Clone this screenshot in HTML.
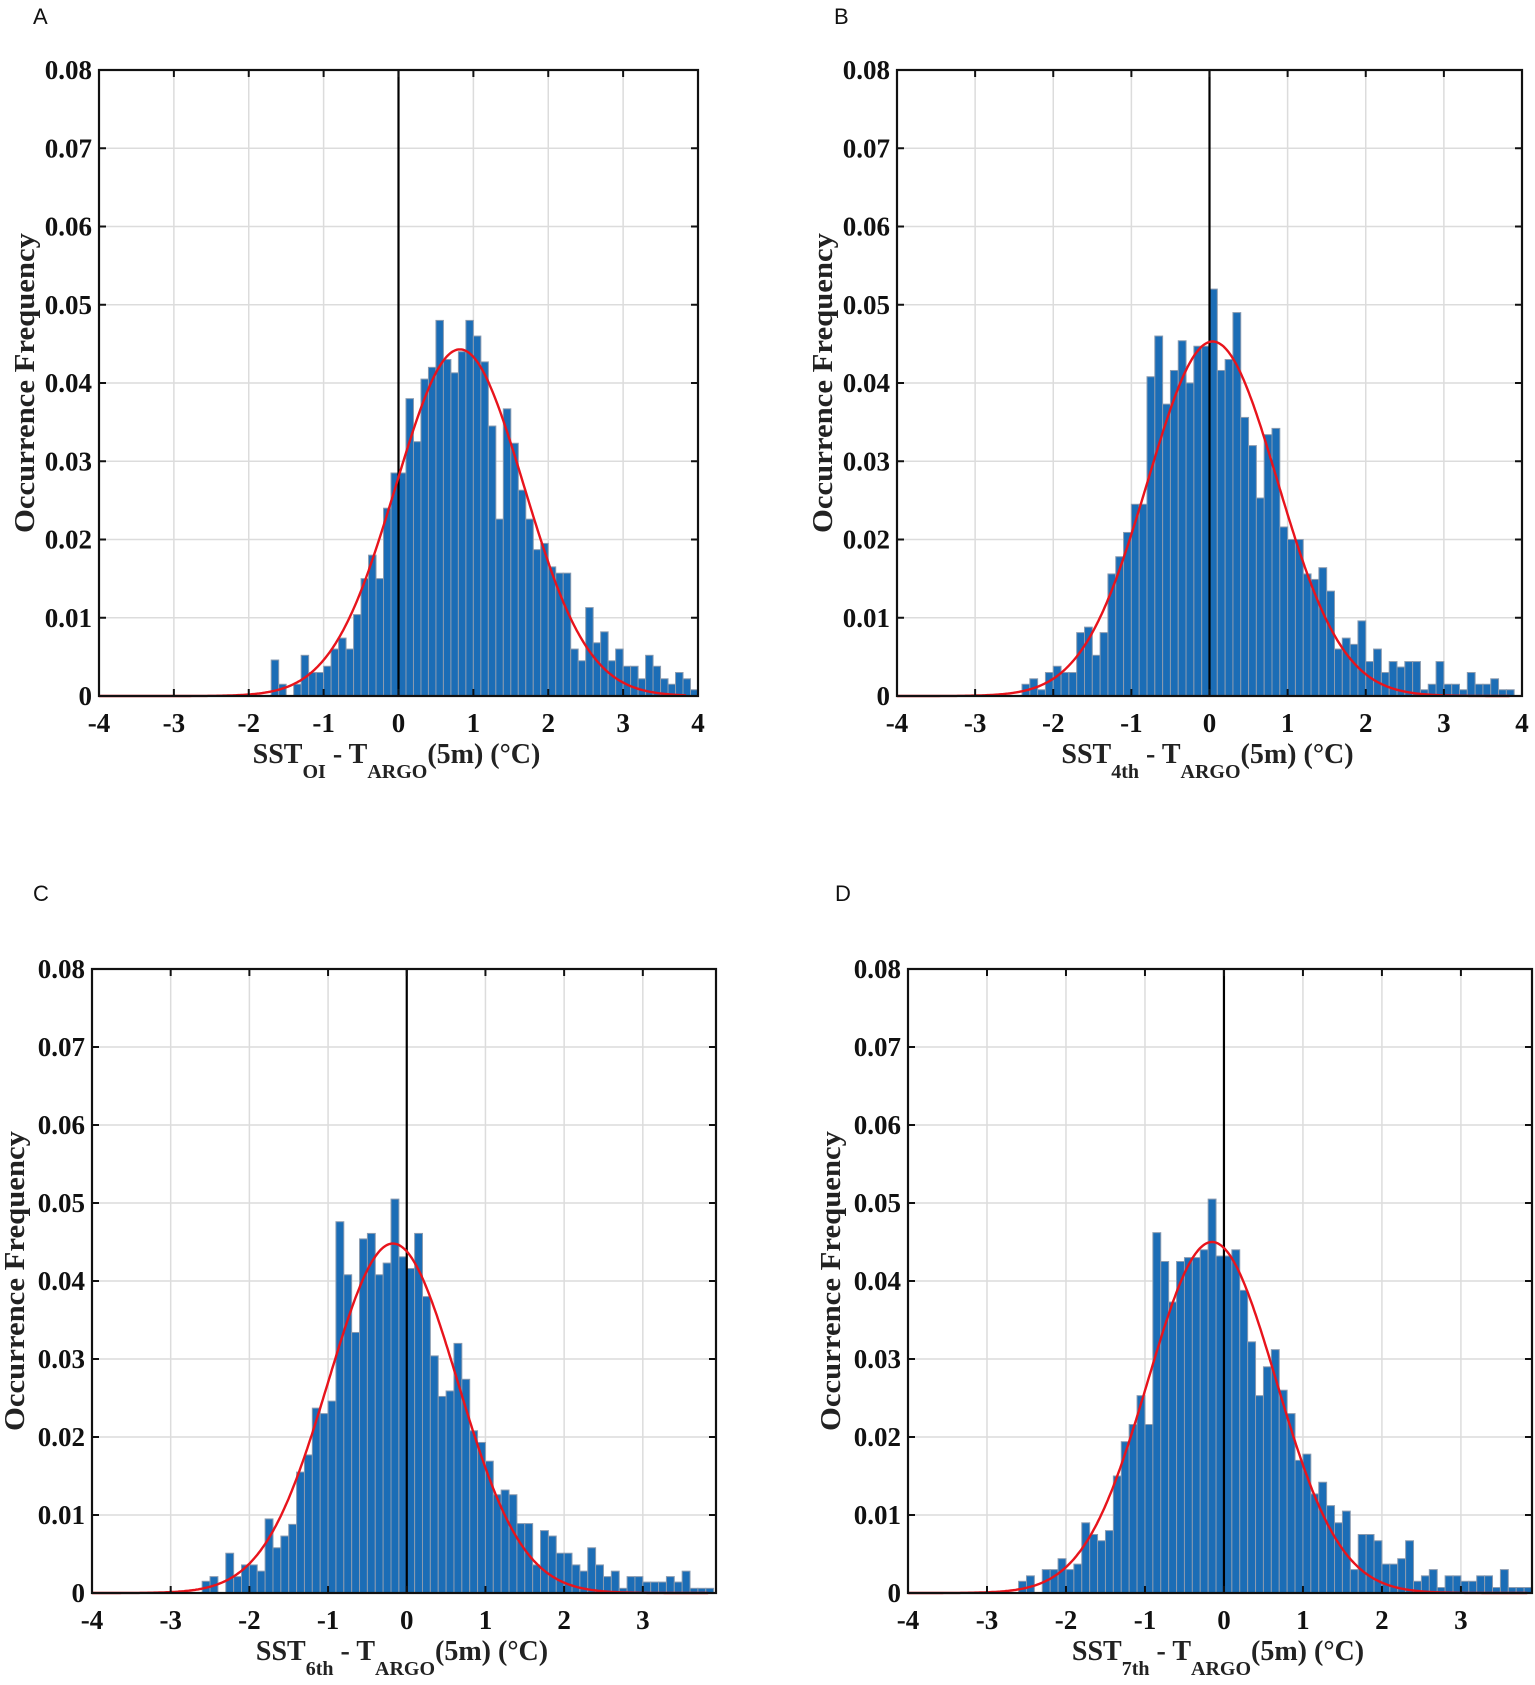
<!DOCTYPE html>
<html><head><meta charset="utf-8">
<style>
html,body{margin:0;padding:0;background:#fff;}
svg{display:block;}
.tick{font-family:"Liberation Serif",serif;font-weight:bold;font-size:27px;fill:#111;}
.ttl{font-family:"Liberation Serif",serif;font-weight:bold;font-size:28px;fill:#222;}
.sub{font-size:20px;}
.lett{font-family:"Liberation Sans","DejaVu Sans",sans-serif;font-size:22px;fill:#111;}
</style></head>
<body>
<svg id="fig" width="1535" height="1685" viewBox="0 0 1535 1685" xmlns="http://www.w3.org/2000/svg"></svg>
<script>
// ---- data ----
const yTicks = [0, 0.01, 0.02, 0.03, 0.04, 0.05, 0.06, 0.07, 0.08];
const yTickLabels = ["0","0.01","0.02","0.03","0.04","0.05","0.06","0.07","0.08"];
const xTicksFull = [-4,-3,-2,-1,0,1,2,3,4];
const xTicksShort = [-4,-3,-2,-1,0,1,2,3];
const binWidth = 0.1;

const aStart = -1.7;
const aValues = [0.0046,0.0015,0,0.0015,0.0052,0.003,0.003,0.0038,0.006,0.0074,0.006,0.0104,0.015,0.018,0.015,0.024,0.0285,0.0285,0.038,0.0325,0.0405,0.042,0.048,0.043,0.0413,0.044,0.048,0.046,0.0427,0.0345,0.0226,0.0367,0.0323,0.0263,0.0226,0.0187,0.0195,0.0165,0.0157,0.0157,0.006,0.0045,0.0113,0.0068,0.0082,0.0045,0.006,0.0038,0.0038,0.0022,0.0052,0.0038,0.0022,0.0015,0.003,0.0022,0.0008];
const aFit = [0.82, 0.855, 0.0443]; // mean, sigma, peak

const bStart = -2.4;
const bValues = [0.0015,0.0022,0.0008,0.003,0.0038,0.003,0.003,0.0081,0.0088,0.0052,0.0081,0.0156,0.0178,0.0209,0.0245,0.0245,0.0408,0.046,0.0373,0.0416,0.0454,0.040,0.0447,0.0447,0.052,0.0416,0.043,0.049,0.0356,0.032,0.0253,0.0334,0.0342,0.0216,0.020,0.020,0.0156,0.0149,0.0164,0.0134,0.006,0.0074,0.0066,0.0096,0.0044,0.006,0.003,0.0044,0.0037,0.0044,0.0044,0.0008,0.0015,0.0044,0.0015,0.0015,0.0008,0.003,0.0015,0.0015,0.0022,0.0008,0.0008];
const bFit = [0.04, 0.83, 0.0453];

const cStart = -2.6;
const cValues = [0.0015,0.0021,0,0.0051,0.0021,0.0036,0.0036,0.0028,0.0095,0.0058,0.0073,0.0088,0.0155,0.0177,0.0237,0.023,0.0246,0.0476,0.0408,0.0334,0.0454,0.0461,0.0408,0.0423,0.0505,0.0431,0.0416,0.0461,0.038,0.0304,0.0252,0.0259,0.032,0.0274,0.0208,0.0193,0.0169,0.0126,0.0132,0.0126,0.0089,0.0089,0.0036,0.008,0.0073,0.0051,0.0051,0.0036,0.0028,0.0058,0.0036,0.0021,0.0028,0.0006,0.0021,0.0021,0.0014,0.0014,0.0014,0.0021,0.0014,0.0028,0.0006,0.0006,0.0006];
const cFit = [-0.175, 0.82, 0.0448];

const dStart = -2.6;
const dValues = [0.0015,0.0022,0,0.003,0.003,0.0044,0.003,0.0037,0.009,0.0075,0.0067,0.008,0.015,0.0194,0.0216,0.0253,0.0216,0.0462,0.0425,0.0373,0.0425,0.043,0.043,0.044,0.0505,0.0432,0.0432,0.044,0.0388,0.0322,0.0253,0.029,0.0312,0.026,0.023,0.017,0.0178,0.0127,0.0142,0.0112,0.009,0.0105,0.003,0.0075,0.0075,0.0067,0.0037,0.0037,0.0044,0.0067,0.0015,0.0022,0.003,0.0007,0.0022,0.0022,0.0015,0.0015,0.0022,0.0022,0.0007,0.003,0.0007,0.0007,0.0007];
const dFit = [-0.15, 0.81, 0.045];

const NS = "http://www.w3.org/2000/svg";
const svg = document.getElementById("fig");
function mk(tag, attrs, parent){
  const e = document.createElementNS(NS, tag);
  for (const k in attrs) e.setAttribute(k, attrs[k]);
  (parent||svg).appendChild(e);
  return e;
}

function panel(cfg){
  const g = mk("g", {});
  
  
  const L=cfg.left,R=cfg.right,T=cfg.top,B=cfg.bottom;
  const sx = v => L + (v - (-4)) / (cfg.xmax - (-4)) * (R - L);
  const sy = v => B - v / 0.08 * (B - T);

  // gridlines
  yTicks.forEach(t=>{
    const l = mk("line",{x1:L,x2:R,y1:sy(t),y2:sy(t),stroke:"#dcdcdc","stroke-width":1.5},g);
    
    
  });
  cfg.xt.forEach(t=>{
    const l = mk("line",{x1:sx(t),x2:sx(t),y1:T,y2:B,stroke:"#dcdcdc","stroke-width":1.5},g);
    
    
  });

  // bars
  cfg.values.forEach((v,i)=>{
    if (v<=0) return;
    const x0 = cfg.start + i*binWidth;
    const r = mk("rect",{x:sx(x0),y:sy(v),width:sx(x0+binWidth)-sx(x0),height:sy(0)-sy(v),fill:"#1b6db6",stroke:"#8a9bb0","stroke-width":1},g);
    
    
  });

  // zero line
  const z = mk("line",{x1:sx(0),x2:sx(0),y1:T,y2:B,stroke:"#000","stroke-width":2.2},g);
  
  

  // fit curve
  const [mu,sig,pk] = cfg.fit;
  let d="";
  for (let k=0;k<=400;k++){
    const x = -4 + k/400*(cfg.xmax+4) ;
    if (x>cfg.curveEnd) break;
    const y = pk*Math.exp(-((x-mu)**2)/(2*sig*sig));
    d += (k?"L":"M")+sx(x).toFixed(1)+","+sy(y).toFixed(1);
  }
  const c = mk("path",{d:d,fill:"none",stroke:"#e8141c","stroke-width":2.4},g);
  
  

  // axes box
  const bx = mk("rect",{x:L,y:T,width:R-L,height:B-T,fill:"none",stroke:"#111","stroke-width":2.2},g);
  
  

  // ticks
  yTicks.forEach((t,i)=>{
    mk("line",{x1:L,x2:L+7,y1:sy(t),y2:sy(t),stroke:"#111","stroke-width":2},g);
    mk("line",{x1:R,x2:R-7,y1:sy(t),y2:sy(t),stroke:"#111","stroke-width":2},g);
    const tx = mk("text",{x:L-7,y:sy(t)+9,"text-anchor":"end",class:"tick"},g);
    tx.textContent = yTickLabels[i];
    
    
  });
  cfg.xt.forEach(t=>{
    mk("line",{x1:sx(t),x2:sx(t),y1:B,y2:B-7,stroke:"#111","stroke-width":2},g);
    mk("line",{x1:sx(t),x2:sx(t),y1:T,y2:T+7,stroke:"#111","stroke-width":2},g);
    const tx = mk("text",{x:sx(t),y:B+36,"text-anchor":"middle",class:"tick"},g);
    tx.textContent = String(t);
    
    
  });

  // y title
  const yc = (T+B)/2;
  const yt = mk("text",{x:0,y:0,"text-anchor":"middle",class:"ttl",transform:`translate(${cfg.ytx},${yc}) rotate(-90)`,textLength:300,lengthAdjust:"spacingAndGlyphs"},g);
  yt.textContent = "Occurrence Frequency";
  
  

  // x title
  const xt = mk("text",{x:(L+R)/2 - 2,y:B+67,"text-anchor":"middle",class:"ttl"},g);
  
  
  const p1 = mk("tspan",{},xt); p1.textContent="SST";
  const p2 = mk("tspan",{class:"sub",dy:15},xt); p2.textContent=cfg.sub;
  const p3 = mk("tspan",{dy:-15},xt); p3.textContent=" - T";
  const p4 = mk("tspan",{class:"sub",dy:15},xt); p4.textContent="ARGO";
  const p5 = mk("tspan",{dy:-15},xt); p5.textContent="(5m) (\u00B0C)";

  const lt = mk("text",{x:cfg.lx,y:cfg.ly,class:"lett"},g);
  lt.textContent = cfg.id;
  
  
}

panel({id:"A",left:99,right:698,top:70,bottom:696,xmax:4,xt:xTicksFull,start:aStart,values:aValues,fit:aFit,curveEnd:3.85,sub:"OI",ytx:34,lx:33,ly:24});
panel({id:"B",left:897,right:1522,top:70,bottom:696,xmax:4,xt:xTicksFull,start:bStart,values:bValues,fit:bFit,curveEnd:3.85,sub:"4th",ytx:832,lx:834,ly:24});
panel({id:"C",left:92,right:716,top:969,bottom:1593,xmax:3.93,xt:xTicksShort,start:cStart,values:cValues,fit:cFit,curveEnd:3.85,sub:"6th",ytx:24,lx:33,ly:901});
panel({id:"D",left:908,right:1532,top:969,bottom:1593,xmax:3.9,xt:xTicksShort,start:dStart,values:dValues,fit:dFit,curveEnd:3.85,sub:"7th",ytx:840,lx:835,ly:901});
</script>
</body></html>
